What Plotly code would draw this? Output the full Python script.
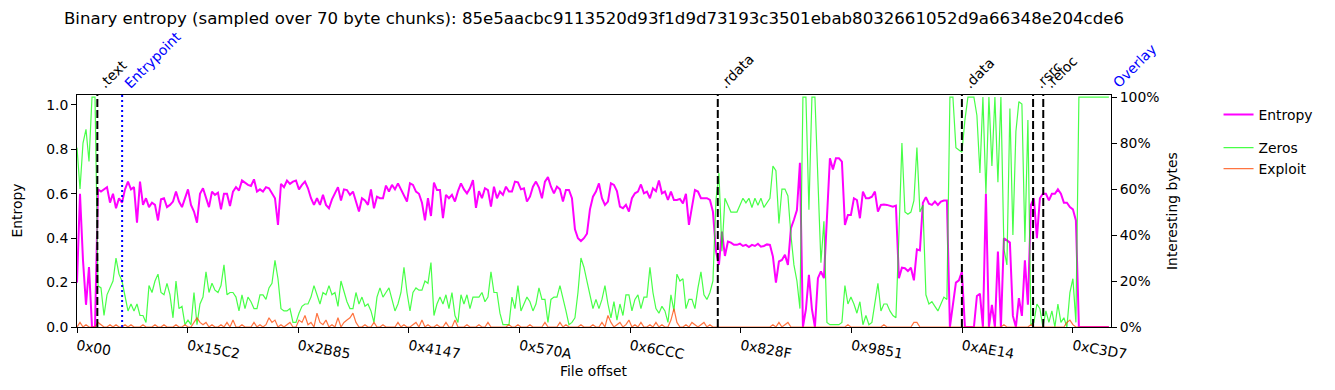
import numpy as np
import plotly.graph_objects as go

TITLE = ("Binary entropy (sampled over 70 byte chunks): "
         "85e5aacbc9113520d93f1d9d73193c3501ebab8032661052d9a66348e204cde6")
STEP = 151          # bytes between plotted samples
FILE_END = 52050    # right end of the offset axis

X_TICK_LABELS = ["0x00", "0x15C2", "0x2B85", "0x4147", "0x570A",
                 "0x6CCC", "0x828F", "0x9851", "0xAE14", "0xC3D7"]
Y_LEFT_TICKS = [0.0, 0.2, 0.4, 0.6, 0.8, 1.0]
Y_RIGHT_TICKS = [0.0, 0.2, 0.4, 0.6, 0.8, 1.0]

SECTION_NAMES = [".text", ".rdata", ".data", ".rsrc", ".reloc"]
SECTION_OFFSETS = [0x400, 0x7E00, 0xAE00, 0xBC00, 0xBE00]
MARKER_NAMES = ["Entrypoint", "Overlay"]
MARKER_OFFSETS = [0x8E0, 52050]

entropy = [
    0.2, 0.6, 0.3, 0.1, 0.27, 0.0, 0.0, 0.62, 0.61, 0.62,
    0.63, 0.56, 0.6, 0.535, 0.58, 0.56, 0.62, 0.655, 0.62, 0.63,
    0.47, 0.655, 0.55, 0.58, 0.54, 0.56, 0.55, 0.48, 0.575, 0.58,
    0.54, 0.55, 0.565, 0.61, 0.565, 0.54, 0.58, 0.62, 0.55, 0.52,
    0.47, 0.6, 0.625, 0.58, 0.54, 0.61, 0.595, 0.605, 0.53, 0.6,
    0.6, 0.545, 0.61, 0.63, 0.615, 0.66, 0.65, 0.64, 0.635, 0.665,
    0.61, 0.62, 0.61, 0.63, 0.625, 0.6, 0.58, 0.46, 0.645, 0.63,
    0.66, 0.645, 0.655, 0.66, 0.62, 0.64, 0.655, 0.625, 0.58, 0.55,
    0.58, 0.55, 0.595, 0.55, 0.535, 0.575, 0.6, 0.63, 0.57, 0.62,
    0.617, 0.595, 0.61, 0.565, 0.52, 0.58, 0.57, 0.55, 0.62, 0.535,
    0.587, 0.58, 0.58, 0.637, 0.61, 0.64, 0.62, 0.647, 0.62, 0.587,
    0.565, 0.647, 0.64, 0.61, 0.6, 0.56, 0.48, 0.58, 0.5, 0.65,
    0.617, 0.617, 0.49, 0.595, 0.58, 0.595, 0.565, 0.612, 0.647, 0.62,
    0.602, 0.625, 0.662, 0.537, 0.612, 0.58, 0.625, 0.617, 0.542, 0.632,
    0.58, 0.61, 0.595, 0.632, 0.61, 0.61, 0.655, 0.652, 0.62, 0.625,
    0.565, 0.587, 0.632, 0.655, 0.628, 0.58, 0.655, 0.675, 0.632, 0.602,
    0.632, 0.62, 0.565, 0.617, 0.617, 0.58, 0.44, 0.4, 0.387, 0.4,
    0.42, 0.53, 0.587, 0.61, 0.647, 0.58, 0.55, 0.565, 0.647, 0.64,
    0.612, 0.542, 0.535, 0.55, 0.52, 0.58, 0.602, 0.61, 0.642, 0.602,
    0.61, 0.58, 0.625, 0.612, 0.66, 0.602, 0.61, 0.572, 0.61, 0.572,
    0.572, 0.577, 0.557, 0.6, 0.46, 0.54, 0.617, 0.61, 0.58, 0.58,
    0.58, 0.572, 0.52, 0.342, 0.28, 0.43, 0.32, 0.385, 0.38, 0.37,
    0.37, 0.375, 0.365, 0.37, 0.36, 0.37, 0.365, 0.375, 0.362, 0.365,
    0.372, 0.37, 0.317, 0.2, 0.295, 0.302, 0.325, 0.28, 0.445, 0.483,
    0.527, 0.74, 0.0, 0.08, 0.235, 0.08, 0.0, 0.22, 0.25, 0.22,
    0.46, 0.76, 0.71, 0.76, 0.76, 0.745, 0.46, 0.505, 0.505, 0.58,
    0.572, 0.49, 0.61, 0.58, 0.58, 0.587, 0.61, 0.52, 0.55, 0.552,
    0.55, 0.547, 0.542, 0.547, 0.22, 0.267, 0.265, 0.252, 0.267, 0.21,
    0.35, 0.345, 0.56, 0.585, 0.555, 0.55, 0.565, 0.55, 0.565, 0.57,
    0.57, 0.0, 0.1, 0.2, 0.21, 0.25, 0.0, 0.0, 0.0, 0.0,
    0.14, 0.15, 0.0, 0.6, 0.0, 0.1, 0.0, 0.34, 0.0, 0.4,
    0.39, 0.38, 0.05, 0.0, 0.13, 0.05, 0.3, 0.1, 0.55, 0.58,
    0.4, 0.58, 0.6, 0.6, 0.57, 0.6, 0.6, 0.62, 0.6, 0.56,
    0.56, 0.54, 0.53, 0.48, 0.0, 0.0, 0.0, 0.0, 0.0, 0.0,
    0.0, 0.0, 0.0, 0.0, 0.0,
]

zeros = [
    0.78, 0.6, 0.8, 0.86, 0.72, 1.0, 1.0, 0.18, 0.17, 0.05,
    0.14, 0.17, 0.2, 0.3, 0.23, 0.2, 0.13, 0.07, 0.1, 0.07,
    0.1, 0.05, 0.05, 0.02, 0.18, 0.15, 0.2, 0.23, 0.15, 0.14,
    0.19, 0.14, 0.04, 0.2, 0.08, 0.09, 0.01, 0.03, 0.01, 0.15,
    0.01, 0.1, 0.13, 0.24, 0.15, 0.19, 0.16, 0.15, 0.18, 0.27,
    0.14, 0.15, 0.15, 0.13, 0.07, 0.14, 0.08, 0.13, 0.11, 0.08,
    0.08, 0.14, 0.14, 0.12, 0.17, 0.19, 0.29, 0.21, 0.08, 0.07,
    0.07, 0.08, 0.02, 0.02, 0.06, 0.09, 0.1, 0.1, 0.13, 0.18,
    0.14, 0.1, 0.15, 0.14, 0.18, 0.14, 0.15, 0.09, 0.2, 0.15,
    0.11, 0.08, 0.08, 0.15, 0.1, 0.13, 0.09, 0.1, 0.07, 0.02,
    0.13, 0.17, 0.13, 0.15, 0.17, 0.12, 0.07, 0.1, 0.15, 0.26,
    0.15, 0.07, 0.15, 0.17, 0.16, 0.16, 0.2, 0.19, 0.28, 0.05,
    0.1, 0.13, 0.1, 0.14, 0.08, 0.15, 0.05, 0.02, 0.14, 0.1,
    0.14, 0.08, 0.13, 0.13, 0.13, 0.15, 0.11, 0.13, 0.24, 0.15,
    0.15, 0.06, 0.01, 0.01, 0.01, 0.13, 0.08, 0.18, 0.07, 0.1,
    0.13, 0.11, 0.07, 0.1, 0.17, 0.12, 0.12, 0.02, 0.12, 0.13,
    0.13, 0.18, 0.13, 0.07, 0.01, 0.02, 0.04, 0.15, 0.3, 0.26,
    0.2, 0.14, 0.08, 0.12, 0.08, 0.12, 0.18, 0.1, 0.04, 0.11,
    0.03, 0.1, 0.05, 0.14, 0.14, 0.07, 0.12, 0.14, 0.08, 0.13,
    0.13, 0.26, 0.15, 0.08, 0.06, 0.09, 0.07, 0.02, 0.14, 0.07,
    0.23, 0.2, 0.21, 0.08, 0.12, 0.12, 0.08, 0.17, 0.24, 0.14,
    0.12, 0.15, 0.2, 0.55, 0.67, 0.33, 0.56, 0.53, 0.5, 0.5,
    0.5, 0.53, 0.56, 0.54, 0.56, 0.52, 0.56, 0.53, 0.56, 0.52,
    0.54, 0.56, 0.7, 0.68, 0.45, 0.6, 0.6, 0.57, 0.4, 0.27,
    0.2, 0.08, 1.0, 1.0, 0.51, 1.0, 1.0, 0.59, 0.28, 0.46,
    0.02, 0.01, 0.01, 0.01, 0.01, 0.02, 0.18, 0.1, 0.13, 0.1,
    0.06, 0.11, 0.01, 0.05, 0.01, 0.02, 0.1, 0.19, 0.07, 0.1,
    0.1, 0.07, 0.05, 0.04, 0.4, 0.8, 0.5, 0.49, 0.5, 0.55,
    0.78, 0.5, 0.53, 0.14, 0.1, 0.11, 0.09, 0.07, 0.1, 0.13,
    0.12, 1.0, 1.0, 0.78, 0.77, 0.76, 0.9, 1.0, 1.0, 1.0,
    0.92, 0.67, 1.0, 0.58, 1.0, 0.7, 1.0, 0.63, 1.0, 0.34,
    0.27, 0.95, 0.4, 0.85, 0.98, 0.97, 0.37, 0.9, 0.01, 0.02,
    0.1, 0.08, 0.0, 0.07, 0.02, 0.07, 0.0, 0.1, 0.02, 0.04,
    0.0, 0.15, 0.21, 0.02, 1.0, 1.0, 1.0, 1.0, 1.0, 1.0,
    1.0, 1.0, 1.0, 1.0, 1.0,
]

exploit = [
    0.0, 0.02, 0.0, 0.01, 0.0, 0.0, 0.0, 0.02, 0.01, 0.0,
    0.0, 0.01, 0.0, 0.01, 0.0, 0.0, 0.01, 0.0, 0.01, 0.0,
    0.0, 0.0, 0.01, 0.0, 0.0, 0.0, 0.01, 0.0, 0.0, 0.01,
    0.0, 0.0, 0.0, 0.01, 0.0, 0.0, 0.01, 0.0, 0.0, 0.02,
    0.04, 0.02, 0.01, 0.02, 0.0, 0.01, 0.0, 0.0, 0.01, 0.0,
    0.02, 0.0, 0.03, 0.0, 0.0, 0.01, 0.0, 0.0, 0.0, 0.02,
    0.0, 0.01, 0.0, 0.01, 0.04, 0.02, 0.03, 0.0, 0.01, 0.0,
    0.01, 0.02, 0.0, 0.0, 0.03, 0.02, 0.05, 0.01, 0.02, 0.0,
    0.06, 0.02, 0.01, 0.03, 0.0, 0.01, 0.0, 0.04, 0.0, 0.02,
    0.03, 0.04, 0.06, 0.02, 0.0, 0.0, 0.01, 0.0, 0.0, 0.02,
    0.0, 0.0, 0.01, 0.0, 0.0, 0.0, 0.0, 0.02, 0.0, 0.01,
    0.0, 0.0, 0.01, 0.02, 0.0, 0.03, 0.0, 0.01, 0.0, 0.0,
    0.01, 0.0, 0.0, 0.02, 0.0, 0.0, 0.03, 0.0, 0.0, 0.0,
    0.01, 0.0, 0.0, 0.0, 0.01, 0.0, 0.0, 0.02, 0.0, 0.0,
    0.0, 0.0, 0.0, 0.0, 0.01, 0.0, 0.0, 0.01, 0.0, 0.0,
    0.0, 0.01, 0.0, 0.0, 0.0, 0.0, 0.02, 0.0, 0.0, 0.0,
    0.0, 0.02, 0.0, 0.01, 0.0, 0.0, 0.0, 0.0, 0.01, 0.0,
    0.0, 0.0, 0.01, 0.0, 0.0, 0.02, 0.0, 0.05, 0.02, 0.0,
    0.01, 0.02, 0.0, 0.01, 0.03, 0.0, 0.01, 0.0, 0.02, 0.0,
    0.0, 0.01, 0.0, 0.02, 0.0, 0.01, 0.0, 0.0, 0.03, 0.08,
    0.02, 0.0, 0.0, 0.01, 0.0, 0.02, 0.01, 0.0, 0.01, 0.02,
    0.0, 0.01, 0.0, 0.0, 0.0, 0.0, 0.0, 0.0, 0.0, 0.0,
    0.0, 0.0, 0.0, 0.0, 0.0, 0.0, 0.0, 0.0, 0.0, 0.0,
    0.0, 0.0, 0.01, 0.0, 0.02, 0.0, 0.01, 0.02, 0.0, 0.0,
    0.0, 0.0, 0.0, 0.0, 0.0, 0.0, 0.0, 0.0, 0.0, 0.0,
    0.0, 0.0, 0.0, 0.0, 0.0, 0.0, 0.0, 0.01, 0.0, 0.0,
    0.0, 0.0, 0.0, 0.0, 0.0, 0.0, 0.0, 0.0, 0.0, 0.01,
    0.0, 0.0, 0.0, 0.0, 0.0, 0.0, 0.0, 0.0, 0.0, 0.02,
    0.02, 0.0, 0.0, 0.0, 0.0, 0.0, 0.0, 0.0, 0.0, 0.0,
    0.0, 0.0, 0.0, 0.0, 0.0, 0.0, 0.0, 0.0, 0.0, 0.0,
    0.0, 0.0, 0.0, 0.0, 0.0, 0.0, 0.0, 0.0, 0.0, 0.01,
    0.0, 0.0, 0.0, 0.0, 0.0, 0.0, 0.0, 0.0, 0.01, 0.0,
    0.0, 0.0, 0.0, 0.0, 0.0, 0.0, 0.0, 0.0, 0.0, 0.0,
    0.02, 0.03, 0.01, 0.0, 0.0, 0.0, 0.0, 0.0, 0.0, 0.0,
    0.0, 0.0, 0.0, 0.0, 0.0,
]

FONT = "DejaVu Sans"
FS = 13.9

# the page body has an 8px margin, so the figure is 8px smaller than the window
FIG_W, FIG_H = 1327, 382


def offsets(values):
    return np.arange(len(values)) * STEP


fig = go.Figure()
fig.add_trace(go.Scatter(x=offsets(entropy), y=entropy, name="Entropy", mode="lines",
                         line=dict(color="#ff00ff", width=2), legendgroup="a", yaxis="y"))
fig.add_trace(go.Scatter(x=offsets(zeros), y=zeros, name="Zeros", mode="lines",
                         line=dict(color="rgba(0,255,0,0.72)", width=1.2), legendgroup="b", yaxis="y2"))
fig.add_trace(go.Scatter(x=offsets(exploit), y=exploit, name="Exploit", mode="lines",
                         line=dict(color="rgba(255,69,0,0.75)", width=1.2), legendgroup="b", yaxis="y2"))

shapes = []
annotations = []
for name, off in zip(SECTION_NAMES, SECTION_OFFSETS):
    shapes.append(dict(type="line", xref="x", yref="paper", x0=off, x1=off, y0=0, y1=1,
                       line=dict(color="black", width=2, dash="8px,3px")))
    annotations.append(dict(text=name, x=off, y=1, xref="x", yref="paper", xanchor="left",
                            yanchor="bottom", textangle=-45, showarrow=False, xshift=-4, yshift=1,
                            font=dict(family=FONT, size=FS, color="black")))
for name, off in zip(MARKER_NAMES, MARKER_OFFSETS):
    if off < FILE_END:  # a marker at the very end sits under the right spine
        shapes.append(dict(type="line", xref="x", yref="paper", x0=off, x1=off, y0=0, y1=1,
                           line=dict(color="blue", width=2, dash="2px,3px")))
    annotations.append(dict(text=name, x=off, y=1, xref="x", yref="paper", xanchor="left",
                            yanchor="bottom", textangle=-45, showarrow=False, xshift=-4, yshift=1,
                            font=dict(family=FONT, size=FS, color="blue")))

annotations += [
    dict(text="Entropy", xref="paper", yref="paper", x=-0.0585, y=0.5, textangle=-90,
         showarrow=False, xanchor="center", yanchor="middle", font=dict(family=FONT, size=FS)),
    dict(text="Interesting bytes", xref="paper", yref="paper", x=1.059, y=0.5, textangle=-90,
         showarrow=False, xanchor="center", yanchor="middle", font=dict(family=FONT, size=FS)),
    dict(text="File offset", xref="paper", yref="paper", x=0.5, y=-0.19,
         showarrow=False, xanchor="center", yanchor="middle", font=dict(family=FONT, size=FS)),
]

axis_common = dict(showgrid=False, zeroline=False, showline=True, linecolor="black", linewidth=1,
                   ticks="outside", ticklen=5, tickwidth=1, tickcolor="black", automargin=False,
                   tickfont=dict(family=FONT, size=FS, color="black"))

fig.update_layout(
    width=FIG_W, height=FIG_H,
    margin=dict(l=69, r=224, t=87, b=63),
    paper_bgcolor="white", plot_bgcolor="white",
    font=dict(family=FONT, size=FS, color="black"),
    title=dict(text=TITLE, x=0.5, xref="paper", xanchor="center", y=1 - 10 / FIG_H,
               yref="container", yanchor="middle", font=dict(family=FONT, size=16.6, color="black")),
    xaxis=dict(range=[0, FILE_END], tickvals=[int(t, 16) for t in X_TICK_LABELS],
               ticktext=X_TICK_LABELS, tickangle=10, mirror=True, **axis_common),
    yaxis=dict(range=[0, 1.045], tickvals=Y_LEFT_TICKS,
               ticktext=[f"{v:.1f}" for v in Y_LEFT_TICKS], mirror=True, **axis_common),
    yaxis2=dict(range=[0, 1.009], overlaying="y", side="right", tickvals=Y_RIGHT_TICKS,
                ticktext=[f"{v:.0%}" for v in Y_RIGHT_TICKS], **axis_common),
    legend=dict(x=1.104, y=0.983, xanchor="left", yanchor="top", traceorder="grouped",
                tracegroupgap=12, font=dict(family=FONT, size=FS), bgcolor="rgba(0,0,0,0)"),
    shapes=shapes,
    annotations=annotations,
    showlegend=True,
)

fig.write_html("out.html", config={"displayModeBar": False})
